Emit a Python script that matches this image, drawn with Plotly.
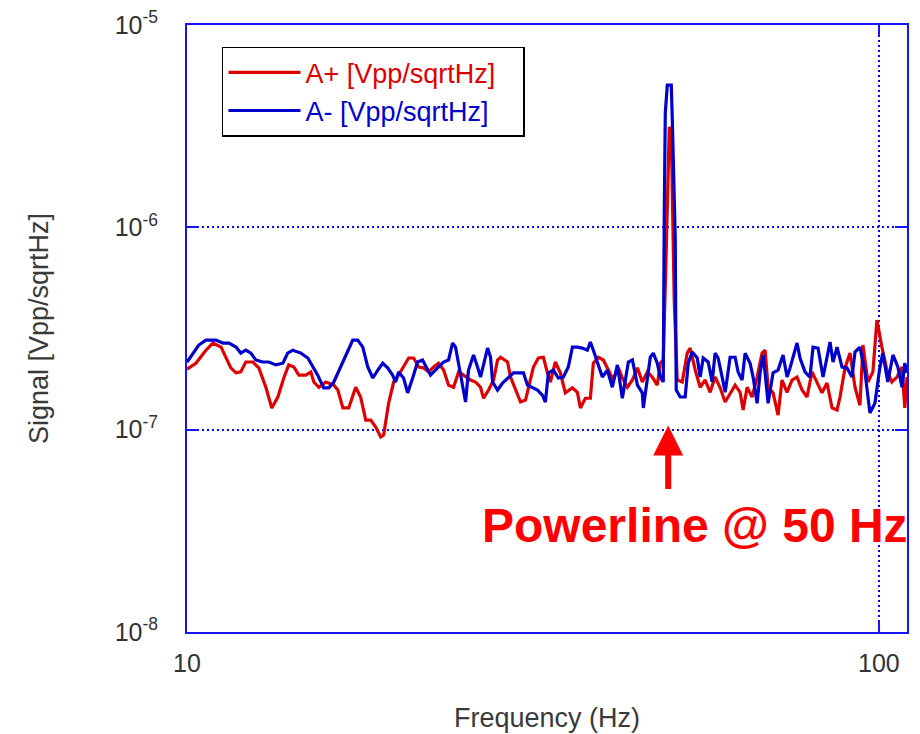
import numpy as np
import plotly.graph_objects as go

# ---- data (values in units of 1e-7 Vpp/sqrtHz) ----
freq_a_plus = [10.0, 10.30, 10.65, 10.90, 11.20, 11.38, 11.57, 11.77, 11.96, 12.16, 12.45, 12.70,
               13.00, 13.26, 13.53, 13.80, 14.03, 14.27, 14.51, 14.85, 15.10, 15.25, 15.51, 15.87,
               16.30, 16.52, 16.80, 17.13, 17.53, 17.82, 18.13, 18.43, 18.74, 19.05, 19.24, 19.56,
               19.89, 20.22, 20.56, 20.91, 21.26, 21.62, 21.98, 22.35, 22.72, 23.10, 23.49, 23.88,
               24.28, 24.69, 25.10, 25.69, 26.12, 26.56, 26.83, 27.28, 27.74, 28.11, 28.39, 29.06,
               29.35, 29.84, 30.34, 30.85, 31.36, 31.67, 32.20, 32.74, 33.18, 33.51, 34.07, 34.64,
               35.22, 36.06, 36.66, 37.03, 37.65, 38.28, 38.66, 39.31, 39.97, 40.64, 41.18, 41.59,
               42.02, 42.58, 43.30, 44.03, 44.77, 45.50, 46.27, 47.04, 47.83, 48.31, 48.79, 49.28,
               49.78, 50.10, 50.44, 50.60, 51.11, 51.97, 52.84, 53.37, 54.27, 55.17, 56.09, 57.03,
               57.98, 58.96, 59.95, 60.95, 61.97, 63.01, 63.64, 64.50, 65.57, 66.68, 67.79, 68.47,
               69.16, 70.31, 71.49, 72.44, 73.66, 74.90, 76.15, 77.43, 78.72, 80.04, 81.38, 82.75,
               84.14, 85.56, 87.00, 87.86, 89.33, 90.83, 92.35, 93.89, 94.83, 96.41, 98.02, 99.34,
               101.0, 102.7, 104.4, 106.2, 108.0, 109.0, 109.8]
a_plus = [1.99, 2.13, 2.47, 2.68, 2.56, 2.28, 2.02, 1.91, 1.93, 2.16, 2.16, 2.02,
          1.62, 1.28, 1.45, 1.80, 2.09, 2.04, 1.86, 1.86, 1.93, 1.72, 1.62, 1.72,
          1.66, 1.57, 1.28, 1.28, 1.62, 1.45, 1.115, 1.115, 1.03, 0.92, 0.94, 1.35,
          1.72, 1.86, 2.04, 2.26, 2.26, 2.04, 2.02, 1.93, 2.04, 2.13, 1.97, 1.66,
          1.62, 1.93, 1.86, 1.76, 1.72, 1.62, 1.43, 1.57, 1.76, 2.21, 2.28, 2.16,
          1.82, 1.57, 1.37, 1.40, 1.80, 2.04, 2.26, 2.28, 1.91, 1.72, 2.16, 1.91,
          1.52, 1.61, 1.53, 1.28, 1.43, 1.43, 2.13, 2.28, 2.21, 1.97, 1.80, 1.86,
          2.02, 1.80, 1.62, 1.76, 2.02, 1.72, 1.93, 1.82, 1.66, 2.13, 2.21, 7.7,
          31.3, 30.0, 7.7, 4.37, 1.76, 1.72, 2.39, 2.53, 1.97, 1.62, 1.76, 1.53,
          1.82, 1.61, 1.37, 1.52, 1.66, 1.53, 1.25, 1.62, 1.45, 1.82, 2.39, 2.47,
          1.62, 1.52, 1.18, 1.76, 1.53, 1.76, 1.82, 1.57, 1.45, 1.93, 1.72, 1.52,
          1.70, 1.28, 1.25, 1.45, 2.02, 2.39, 1.62, 1.32, 2.62, 1.72, 1.93, 3.48,
          2.56, 1.97, 1.72, 1.82, 2.04, 1.28, 1.82]

freq_a_minus = [10.0, 10.40, 10.65, 11.01, 11.27, 11.50, 11.77, 11.96, 12.16, 12.37, 12.57, 12.87,
                13.13, 13.44, 13.76, 13.98, 14.22, 14.61, 14.95, 15.20, 15.45, 15.76, 16.03, 16.30,
                16.68, 17.08, 17.36, 17.65, 17.95, 18.25, 18.56, 18.87, 19.18, 19.50, 19.82, 20.02,
                20.22, 20.56, 20.84, 21.19, 21.54, 21.90, 22.27, 22.49, 23.02, 23.49, 23.88, 24.20,
                24.44, 24.69, 25.10, 25.27, 25.52, 25.95, 26.38, 26.56, 27.19, 27.46, 27.65, 28.11,
                28.58, 29.15, 29.64, 30.14, 30.64, 31.05, 31.57, 32.10, 32.63, 32.96, 33.29, 33.85,
                34.41, 34.99, 35.57, 36.06, 36.66, 37.27, 37.90, 38.28, 38.66, 39.18, 39.84, 40.51,
                41.18, 41.88, 42.58, 43.44, 44.03, 44.77, 45.50, 45.66, 46.27, 46.73, 47.20, 47.83,
                48.31, 48.79, 48.96, 49.12, 49.45, 50.11, 50.27, 50.77, 50.94, 51.63, 52.48, 53.02,
                53.73, 54.63, 55.17, 55.72, 56.65, 57.41, 57.98, 58.56, 59.35, 59.95, 60.95, 61.97,
                62.59, 63.43, 64.07, 65.14, 65.79, 66.68, 67.34, 68.02, 68.47, 69.16, 70.31, 71.49,
                72.69, 73.66, 74.40, 75.15, 76.15, 76.91, 78.20, 79.50, 80.31, 81.66, 83.04, 84.14,
                84.99, 85.84, 87.00, 88.45, 89.93, 91.43, 92.35, 93.89, 95.46, 97.05, 98.68, 100.3,
                101.3, 103.0, 104.8, 106.5, 108.0, 109.0, 109.8]
a_minus = [2.16, 2.62, 2.77, 2.77, 2.68, 2.68, 2.56, 2.39, 2.47, 2.39, 2.21, 2.16,
           2.16, 2.09, 2.13, 2.39, 2.47, 2.39, 2.26, 2.04, 1.86, 1.61, 1.61, 1.72,
           2.04, 2.42, 2.77, 2.77, 2.56, 2.04, 1.80, 1.97, 2.13, 2.02, 1.86, 1.72,
           1.93, 1.80, 1.52, 1.80, 2.16, 2.21, 1.97, 1.86, 2.02, 2.16, 2.21, 2.68,
           2.56, 2.13, 1.62, 1.37, 1.97, 2.34, 1.97, 1.82, 2.53, 2.28, 1.72, 1.57,
           1.70, 1.82, 1.91, 1.91, 1.91, 1.66, 1.61, 1.57, 1.48, 1.37, 1.91, 1.97,
           1.80, 1.82, 2.04, 2.56, 2.56, 2.53, 2.47, 2.71, 2.47, 2.13, 1.82, 1.97,
           1.62, 2.09, 1.43, 2.16, 2.21, 1.66, 1.52, 1.28, 1.76, 2.28, 2.39, 2.13,
           1.82, 1.72, 12.6, 36.7, 50.5, 50.5, 35.0, 9.0, 1.57, 1.45, 1.45, 2.13,
           2.42, 2.26, 1.82, 2.26, 2.16, 1.72, 2.39, 2.26, 1.82, 1.53, 2.28, 2.28,
           1.93, 1.76, 2.39, 2.13, 1.82, 1.35, 1.91, 2.34, 1.91, 1.35, 1.91, 1.97,
           2.34, 1.82, 2.02, 2.28, 2.68, 2.26, 1.93, 1.82, 2.56, 2.53, 1.82, 2.28,
           2.71, 2.16, 2.56, 2.04, 2.02, 1.82, 2.42, 2.56, 1.93, 1.21, 1.35, 2.02,
           2.39, 1.72, 2.34, 2.04, 1.62, 2.13, 1.91]

VALUE_UNIT = 1e-7
series_names = ["A+ [Vpp/sqrtHz]", "A- [Vpp/sqrtHz]"]
series_colors = ["#dd0000", "#0000cc"]

y_tick_vals = [1e-8, 1e-7, 1e-6, 1e-5]
y_tick_text = ["10<sup>-8</sup>", "10<sup>-7</sup>", "10<sup>-6</sup>", "10<sup>-5</sup>"]
x_tick_vals = [10, 100]
x_tick_text = ["10", "100"]
x_limits = [10, 109.8]
y_limits = [1e-8, 1e-5]

arrow_freq = 49.6
arrow_level = 1.05e-7

FONT = "Liberation Sans, Arial, sans-serif"
AXIS_BLUE = "#1414ff"
NBSP = "\u00a0"

fig = go.Figure()
for f, vals, nm, col in [(freq_a_plus, a_plus, series_names[0], series_colors[0]),
                         (freq_a_minus, a_minus, series_names[1], series_colors[1])]:
    fig.add_trace(go.Scatter(
        x=f, y=[v * VALUE_UNIT for v in vals], mode="lines",
        name=f"<span style='color:{col}'>{nm}{NBSP * 3}</span>",
        line=dict(color=col, width=3.2)))

axis_common = dict(
    showline=True, linecolor=AXIS_BLUE, linewidth=2, mirror="ticks",
    ticks="inside", ticklen=12, tickcolor=AXIS_BLUE, tickwidth=1.5,
    showgrid=True, gridcolor="#0000ff", gridwidth=1.5, griddash="2px,3px",
    zeroline=False, automargin=False,
    tickfont=dict(family=FONT, size=25, color="#333333"),
)

fig.update_xaxes(
    type="log", range=[np.log10(x_limits[0]), np.log10(x_limits[1])],
    tickmode="array", tickvals=x_tick_vals, ticktext=x_tick_text,
    ticklabelstandoff=8,
    title=dict(text="Frequency (Hz)", font=dict(family=FONT, size=27, color="#3a3a3a"), standoff=32),
    **axis_common)
fig.update_yaxes(
    type="log", range=[np.log10(y_limits[0]), np.log10(y_limits[1])],
    tickmode="array", tickvals=y_tick_vals, ticktext=y_tick_text,
    ticklabelstandoff=22,
    title=dict(text="Signal [Vpp/sqrtHz]", font=dict(family=FONT, size=27, color="#3a3a3a"), standoff=58),
    **axis_common)

fig.add_annotation(
    x=np.log10(arrow_freq), y=np.log10(arrow_level), xref="x", yref="y",
    text="", showarrow=True, arrowhead=2, arrowsize=1, arrowwidth=6,
    arrowcolor="#ff0000", ax=0, ay=65, standoff=0)
fig.add_annotation(
    x=0.705, y=0.176, xref="paper", yref="paper", xanchor="center", yanchor="middle",
    text="<b>Powerline @ 50 Hz</b>", showarrow=False,
    font=dict(family=FONT, size=48, color="#ff0000"))

fig.update_layout(
    width=920, height=734,
    margin=dict(l=187, r=13, t=25, b=102),
    paper_bgcolor="white", plot_bgcolor="white",
    showlegend=True,
    legend=dict(
        x=0.0486, y=0.964, xanchor="left", yanchor="top",
        bgcolor="white", bordercolor="black", borderwidth=1.5,
        font=dict(family=FONT, size=27, color="#000000"),
        itemwidth=72, tracegroupgap=0,
    ),
)

fig.write_html("out.html")
